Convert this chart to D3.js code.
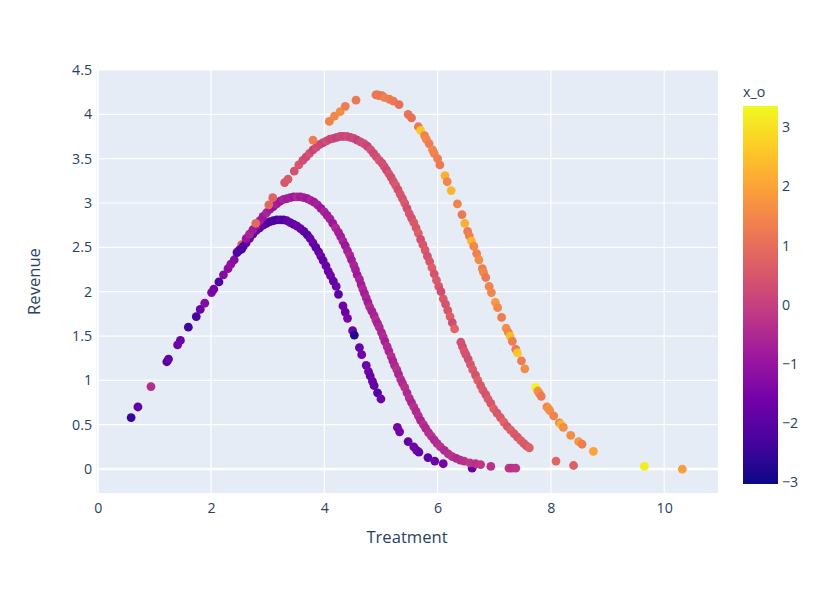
<!DOCTYPE html>
<html>
<head>
<meta charset="utf-8">
<script src="https://cdn.jsdelivr.net/npm/d3@7"></script>
<style>
  body { margin: 0; background: #fff; }
  svg text { font-family: "Open Sans", verdana, arial, sans-serif; fill: #2a3f5f; }
</style>
</head>
<body>
<svg class="svgWrapper" width="830" height="595"></svg>
<script>
// [treatment, revenue, x_o]
const sharedRise = [
  [0.59,0.58,-2.5],[0.71,0.70,-1.9],[0.94,0.93,-0.4],[1.22,1.21,-2.1],[1.25,1.24,-1.9],
  [1.41,1.40,-1.6],[1.46,1.45,-1.7],[1.60,1.60,-2.4],[1.74,1.72,-2.3],[1.81,1.80,-1.8],
  [1.89,1.87,-1.3],[2.01,1.99,-1.4],[2.05,2.03,-1.5],[2.14,2.11,-2.2],[2.22,2.19,-1.3],
  [2.30,2.26,-1.2],[2.35,2.31,-1.1],[2.41,2.36,-1.3],[2.46,2.45,0.7],[2.54,2.53,0.8],
  [2.46,2.44,-2.2],[2.50,2.47,-2.0],[2.54,2.48,-2.3],[2.57,2.51,-2.1]
];

const lowCurve = [
  [2.62,2.55,-2.0],[2.68,2.60,-1.8],[2.74,2.65,-1.9],[2.80,2.69,-1.7],[2.86,2.72,-2.0],
  [2.92,2.75,-1.8],[2.98,2.77,-1.9],[3.04,2.79,-2.2],[3.10,2.80,-2.1],[3.16,2.81,-2.3],
  [3.22,2.81,-2.0],[3.28,2.81,-2.2],[3.34,2.80,-1.9],[3.40,2.78,-1.8],[3.46,2.76,-2.0],
  [3.52,2.74,-1.7],[3.58,2.71,-1.8],[3.64,2.68,-1.9],[3.70,2.64,-2.1],[3.75,2.60,-1.8],
  [3.80,2.55,-1.7],[3.85,2.50,-2.0],[3.90,2.45,-1.8],[3.94,2.40,-1.6],[3.98,2.35,-1.9],
  [4.03,2.29,-1.7],[4.07,2.23,-1.8],[4.11,2.18,-1.6],[4.16,2.12,-1.9],[4.21,2.06,-1.7],
  [4.25,1.97,-2.0],[4.33,1.84,-1.6],[4.37,1.77,-1.8],[4.41,1.70,-1.5],[4.50,1.56,-1.7],
  [4.53,1.51,-2.7],[4.62,1.37,-1.8],[4.66,1.29,-1.6],[4.74,1.17,-1.7],[4.78,1.10,-1.6],
  [4.81,1.05,-1.8],[4.85,0.99,-1.7],[4.88,0.94,-1.9],[4.94,0.86,-2.1],[5.00,0.79,-1.7],
  [5.29,0.47,-1.5],[5.33,0.42,-1.6],[5.48,0.31,-1.9],[5.58,0.25,-1.6],[5.63,0.21,-1.7],
  [5.67,0.19,-1.8],[5.83,0.13,-2.0],[5.95,0.09,-1.7],[6.10,0.06,-1.5],[6.61,0.01,-1.9]
];

const midCurve = [
  [2.62,2.60,-0.9],[2.68,2.65,-0.6],[2.74,2.70,-0.8],[2.80,2.75,-1.0],[2.86,2.80,-0.7],
  [2.92,2.85,-0.9],[2.98,2.89,-0.6],[3.04,2.93,-0.8],[3.10,2.96,-1.0],[3.16,2.99,-0.7],
  [3.22,3.02,-0.9],[3.28,3.04,-0.6],[3.34,3.05,-0.8],[3.40,3.06,-0.7],[3.46,3.07,-0.9],
  [3.52,3.07,-0.5],[3.58,3.07,-0.8],[3.64,3.06,-0.7],[3.70,3.05,-0.9],[3.76,3.03,-0.6],
  [3.82,3.01,-0.8],[3.88,2.98,-0.7],[3.94,2.94,-0.9],[4.00,2.90,-0.6],[4.05,2.86,-0.8],
  [4.10,2.82,-0.7],[4.15,2.77,-0.9],[4.20,2.72,-0.5],[4.25,2.67,-0.7],[4.29,2.62,-0.8],
  [4.33,2.57,-0.6],[4.37,2.52,-0.9],[4.41,2.46,-0.7],[4.45,2.41,-0.5],[4.48,2.36,-0.8],
  [4.52,2.30,-0.6],[4.55,2.25,-0.7],[4.58,2.19,-0.9],[4.62,2.14,-0.6],[4.65,2.08,-0.8],
  [4.68,2.03,-0.5],[4.71,1.98,-0.7],[4.74,1.93,-0.6],[4.77,1.88,-0.8],[4.80,1.83,-0.5],
  [4.84,1.78,-0.7],[4.88,1.73,-0.6],[4.91,1.68,-0.4],[4.94,1.64,-0.7],[4.97,1.60,-0.5],
  [5.01,1.54,-0.6],[5.04,1.49,-0.4],[5.07,1.44,-0.7],[5.11,1.38,-0.5],[5.14,1.33,-0.6],
  [5.18,1.27,-0.4],[5.21,1.22,-0.6],[5.24,1.17,-0.5],[5.28,1.12,-0.3],[5.31,1.07,-0.6],
  [5.35,1.01,-0.4],[5.38,0.97,-0.5],[5.42,0.92,-0.3],[5.46,0.86,-0.5],[5.50,0.80,-0.4],
  [5.54,0.75,-0.6],[5.58,0.70,-0.3],[5.62,0.65,-0.5],[5.66,0.60,-0.4],[5.70,0.55,-0.6],
  [5.75,0.50,-0.3],[5.79,0.46,-0.5],[5.84,0.41,-0.4],[5.89,0.37,-0.3],[5.94,0.33,-0.5],
  [5.99,0.29,-0.4],[6.05,0.25,-0.3],[6.12,0.21,-0.5],[6.19,0.17,-0.4],[6.26,0.14,-0.3],
  [6.33,0.12,-0.5],[6.40,0.10,-0.4],[6.47,0.09,-0.3],[6.57,0.07,-0.2],[6.67,0.06,-0.3],
  [6.76,0.05,-0.2],[6.94,0.03,-0.3],[7.26,0.01,-0.2],[7.31,0.01,-0.3],[7.38,0.01,-0.2]
];

const highCurve = [
  [2.79,2.77,0.9],[3.02,2.98,0.9],[3.09,3.06,0.8],[3.30,3.23,0.5],[3.36,3.27,0.6],
  [3.47,3.36,0.4],[3.55,3.43,0.5],
  [3.62,3.48,0.3],[3.68,3.52,0.2],[3.74,3.56,0.4],[3.80,3.60,0.1],[3.86,3.63,0.3],
  [3.92,3.66,0.2],[3.98,3.68,0.0],[4.04,3.70,0.3],[4.10,3.72,0.1],[4.16,3.73,0.2],
  [4.22,3.74,0.0],[4.28,3.75,0.2],[4.34,3.75,0.1],[4.40,3.75,0.3],[4.46,3.74,0.1],
  [4.52,3.73,0.2],[4.58,3.71,0.0],[4.64,3.69,0.2],[4.70,3.67,0.3],[4.76,3.64,0.1],
  [4.82,3.60,0.4],[4.87,3.56,0.2],[4.92,3.52,0.3],[4.97,3.48,0.5],
  [5.02,3.45,0.3],[5.06,3.41,0.4],[5.10,3.37,0.2],[5.14,3.33,0.5],[5.18,3.29,0.3],
  [5.22,3.24,0.4],[5.26,3.20,0.6],[5.30,3.15,0.3],[5.34,3.10,0.5],[5.38,3.05,0.4],
  [5.42,3.00,0.6],[5.46,2.94,0.3],[5.50,2.88,0.5],[5.54,2.83,0.4],[5.58,2.78,0.6],
  [5.62,2.72,0.5],[5.66,2.66,0.7],[5.70,2.59,0.3],[5.74,2.53,0.5],[5.78,2.47,0.6],
  [5.82,2.40,0.4],[5.86,2.34,0.5],[5.90,2.27,0.7],[5.94,2.20,0.4],[5.98,2.13,0.6],
  [6.02,2.06,0.5],[6.06,2.00,0.3],[6.10,1.92,0.6],[6.14,1.86,0.4],[6.18,1.79,0.5],
  [6.22,1.72,0.7],[6.26,1.65,0.3],[6.30,1.58,0.8],
  [6.41,1.43,0.4],[6.44,1.38,0.3],[6.47,1.33,0.5],[6.50,1.29,0.4],[6.54,1.24,0.3],
  [6.58,1.18,0.5],[6.62,1.12,0.6],[6.67,1.06,0.4],[6.71,1.00,0.7],[6.76,0.94,0.5],
  [6.80,0.89,0.6],[6.85,0.84,0.4],[6.89,0.79,0.6],[6.94,0.74,0.5],[6.99,0.68,0.7],
  [7.05,0.63,0.5],[7.11,0.58,0.6],[7.17,0.53,0.8],[7.23,0.48,0.5],[7.29,0.44,0.7],
  [7.35,0.40,0.6],[7.41,0.36,0.5],[7.47,0.32,0.7],[7.52,0.29,0.6],[7.57,0.26,0.5],
  [7.62,0.24,0.7]
];

const topCurve = [
  [3.80,3.71,1.3],[4.09,3.92,1.4],[4.18,3.98,1.5],[4.28,4.03,1.6],[4.37,4.09,1.3],
  [4.56,4.16,1.2],[4.91,4.22,1.3],[4.94,4.22,1.1],[4.97,4.21,1.2],[5.02,4.21,1.1],
  [5.06,4.19,1.4],[5.15,4.17,1.3],[5.22,4.15,1.2],[5.32,4.11,1.0],[5.48,4.00,1.1],
  [5.54,3.96,1.0],[5.66,3.86,1.2],[5.70,3.82,2.6],[5.77,3.76,1.4],[5.80,3.72,1.5],
  [5.85,3.67,1.3],[5.91,3.60,1.5],[5.94,3.56,1.4],[6.00,3.50,1.3],[6.04,3.43,1.2],
  [6.13,3.31,2.2],[6.17,3.24,1.5],[6.24,3.14,2.3],[6.35,2.99,1.4],[6.43,2.87,1.2],
  [6.48,2.77,2.2],[6.53,2.68,1.3],[6.56,2.63,1.4],[6.60,2.57,2.3],[6.64,2.51,1.5],
  [6.69,2.43,1.4],[6.73,2.36,1.6],[6.79,2.26,1.3],[6.81,2.22,1.5],[6.85,2.16,1.2],
  [6.91,2.06,1.4],[6.95,1.99,1.5],[7.02,1.88,1.8],[7.06,1.82,1.5],[7.13,1.71,1.3],
  [7.21,1.59,1.6],[7.25,1.54,1.5],[7.28,1.50,2.4],[7.32,1.44,1.3],[7.38,1.35,1.2],
  [7.41,1.31,2.6],[7.48,1.22,1.3],[7.54,1.13,1.6],[7.73,0.92,3.3],[7.77,0.88,1.7],
  [7.80,0.85,1.6],[7.83,0.82,1.2],[7.93,0.70,1.5],[7.96,0.68,1.7],[7.98,0.66,1.6],
  [8.05,0.60,1.4],[8.15,0.52,1.5],[8.18,0.50,2.4],[8.22,0.47,1.6],[8.35,0.38,1.6],
  [8.49,0.31,1.8],[8.55,0.28,1.3],[8.75,0.20,2.0],[8.09,0.09,0.8],[8.40,0.04,0.7],
  [9.65,0.03,3.2],[10.32,0.00,1.9]
];

const xTicks = [0, 2, 4, 6, 8, 10];
const yTicks = [0, 0.5, 1, 1.5, 2, 2.5, 3, 3.5, 4, 4.5];
const cTicks = [-3, -2, -1, 0, 1, 2, 3];
const xRange = [-0.03, 10.95];
const yRange = [-0.27, 4.5];
const cRange = [-3.03, 3.36];
const plasma = ['#0d0887','#46039f','#7201a8','#9c179e','#bd3786','#d8576b','#ed7953','#fb9f3a','#fdca26','#f0f921'];

const svgObj = d3.select('.svgWrapper');
const margin = {left: 96, top: 70, right: 112, bottom: 102};
const W = 830, H = 595;
const plotW = W - margin.left - margin.right;
const plotH = H - margin.top - margin.bottom;

const xScale = d3.scaleLinear().domain(xRange).range([0, plotW]);
const yScale = d3.scaleLinear().domain(yRange).range([plotH, 0]);
const colorScale = d3.scaleLinear()
  .domain(plasma.map((c, i) => cRange[0] + (cRange[1] - cRange[0]) * i / (plasma.length - 1)))
  .range(plasma)
  .clamp(true);

const fmt = v => String(v).replace('-', '\u2212');

const plot = svgObj.append('g').attr('transform', `translate(${margin.left},${margin.top})`);
plot.append('rect').attr('width', plotW).attr('height', plotH).attr('fill', '#E5ECF6');

//grid lines
plot.append('g').selectAll('line').data(xTicks).join('line')
  .attr('x1', d => xScale(d)).attr('x2', d => xScale(d))
  .attr('y1', 0).attr('y2', plotH)
  .attr('stroke', '#fff').attr('stroke-width', d => d === 0 ? 2.4 : 1.2);
plot.append('g').selectAll('line').data(yTicks).join('line')
  .attr('y1', d => yScale(d)).attr('y2', d => yScale(d))
  .attr('x1', 0).attr('x2', plotW)
  .attr('stroke', '#fff').attr('stroke-width', d => d === 0 ? 2.4 : 1.2);

//axes, plotly style: labels only
const xAxis = plot.append('g').attr('transform', `translate(0,${plotH})`)
  .call(d3.axisBottom(xScale).tickValues(xTicks).tickSize(0).tickPadding(10).tickFormat(fmt));
const yAxis = plot.append('g')
  .call(d3.axisLeft(yScale).tickValues(yTicks).tickSize(0).tickPadding(4).tickFormat(fmt));
[xAxis, yAxis].forEach(a => {
  a.select('.domain').remove();
  a.selectAll('text').attr('font-size', 14.2).attr('fill', '#2a3f5f')
    .attr('font-family', '"Open Sans", verdana, arial, sans-serif');
});

//points
const allPoints = [].concat(sharedRise, lowCurve, midCurve, highCurve, topCurve);
plot.append('g').selectAll('circle').data(allPoints).join('circle')
  .attr('cx', d => xScale(d[0]))
  .attr('cy', d => yScale(d[1]))
  .attr('r', 4.4)
  .attr('fill', d => colorScale(d[2]));

//axis titles
svgObj.append('text').attr('x', margin.left + plotW / 2).attr('y', 543)
  .attr('text-anchor', 'middle').attr('font-size', 16.6).text('Treatment');
svgObj.append('text').attr('transform', `translate(40,${margin.top + plotH / 2}) rotate(-90)`)
  .attr('text-anchor', 'middle').attr('font-size', 16.6).text('Revenue');

//colorbar
const cb = {x: 743, y: 106, w: 35, h: 378};
const cbScale = d3.scaleLinear().domain(cRange).range([cb.y + cb.h, cb.y]);
const grad = svgObj.append('defs').append('linearGradient')
  .attr('id', 'cbGrad').attr('x1', 0).attr('y1', 1).attr('x2', 0).attr('y2', 0);
grad.selectAll('stop').data(plasma).join('stop')
  .attr('offset', (d, i) => i / (plasma.length - 1))
  .attr('stop-color', d => d);
svgObj.append('rect').attr('x', cb.x).attr('y', cb.y).attr('width', cb.w).attr('height', cb.h)
  .attr('fill', 'url(#cbGrad)');
const cAxis = svgObj.append('g').attr('transform', `translate(${cb.x + cb.w},0)`)
  .call(d3.axisRight(cbScale).tickValues(cTicks).tickSize(0).tickPadding(4).tickFormat(fmt));
cAxis.select('.domain').remove();
cAxis.selectAll('text').attr('font-size', 14.2).attr('fill', '#2a3f5f')
  .attr('font-family', '"Open Sans", verdana, arial, sans-serif');
svgObj.append('text').attr('x', cb.x).attr('y', 97).attr('font-size', 14.2).text('x_o');
</script>
</body>
</html>
